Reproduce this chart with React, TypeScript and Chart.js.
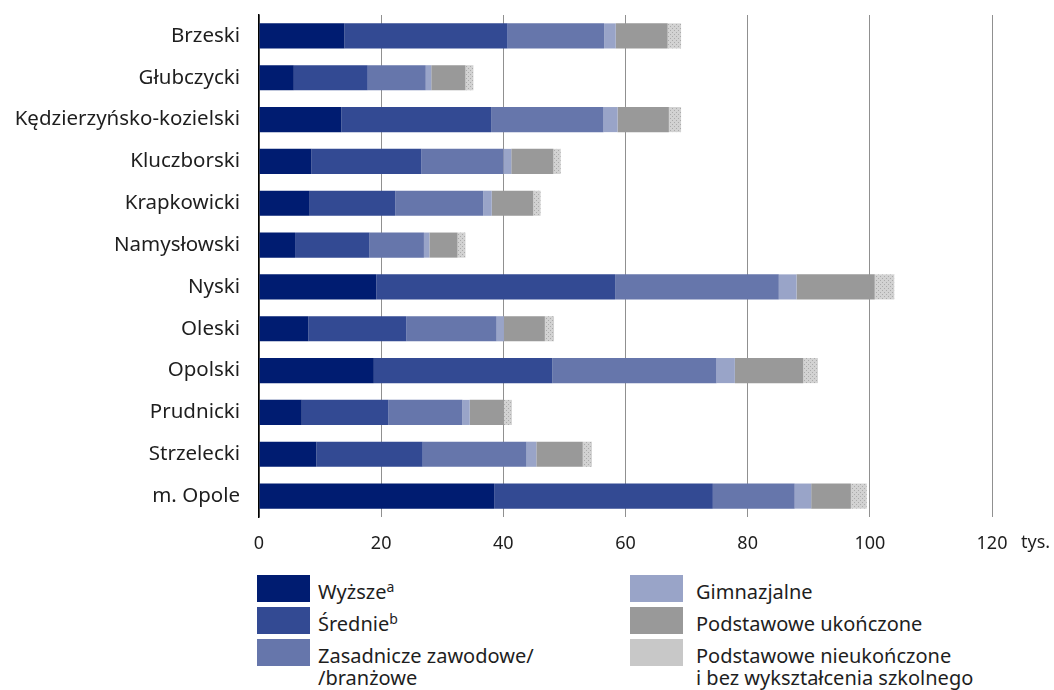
import React, { useEffect, useRef } from "react";
import { Chart, registerables } from "chart.js";

Chart.register(...registerables);

const categories = [
  "Brzeski",
  "Głubczycki",
  "Kędzierzyńsko-kozielski",
  "Kluczborski",
  "Krapkowicki",
  "Namysłowski",
  "Nyski",
  "Oleski",
  "Opolski",
  "Prudnicki",
  "Strzelecki",
  "m. Opole",
];

const wyzsze = [14.0, 5.7, 13.5, 8.6, 8.3, 5.9, 19.2, 8.1, 18.8, 7.0, 9.4, 38.5];
const srednie = [26.7, 12.1, 24.5, 18.0, 14.0, 12.2, 39.1, 16.0, 29.2, 14.2, 17.4, 35.8];
const zasadnicze = [15.8, 9.5, 18.4, 13.4, 14.4, 8.9, 26.8, 14.8, 26.9, 12.1, 17.0, 13.4];
const gimnazjalne = [1.9, 0.9, 2.3, 1.3, 1.4, 0.9, 2.9, 1.2, 3.0, 1.2, 1.6, 2.7];
const podstawoweUkonczone = [8.5, 5.6, 8.4, 6.9, 6.8, 4.6, 12.8, 6.7, 11.2, 5.6, 7.6, 6.5];
const podstawoweNieukonczone = [2.2, 1.3, 2.0, 1.2, 1.2, 1.3, 3.2, 1.5, 2.4, 1.3, 1.5, 2.6];

const xTicks = [0, 20, 40, 60, 80, 100, 120];
const unitLabel = "tys.";

const FONT = "'Noto Sans', 'Open Sans', sans-serif";
const TEXT = "#1e1e1e";

const COLORS = ["#001c71", "#334a93", "#6676ab", "#99a4c8", "#999999", "#c8c8c8"];

function makePattern(): CanvasPattern | string {
  const c = document.createElement("canvas");
  c.width = 4;
  c.height = 4;
  const g = c.getContext("2d");
  if (!g) return COLORS[5];
  g.fillStyle = "#d2d2d2";
  g.fillRect(0, 0, 4, 4);
  g.fillStyle = "#ababab";
  g.fillRect(0, 0, 1, 1);
  g.fillRect(2, 2, 1, 1);
  const p = g.createPattern(c, "repeat");
  return p || COLORS[5];
}

export default function App() {
  const ref = useRef<HTMLCanvasElement | null>(null);

  useEffect(() => {
    document.body.style.margin = "0";
    const canvas = ref.current;
    if (!canvas) return;

    const unitPlugin = {
      id: "unitLabel",
      afterDraw(chart: any) {
        const x = chart.scales.x;
        const ctx = chart.ctx;
        ctx.save();
        ctx.font = `18px ${FONT}`;
        ctx.fillStyle = TEXT;
        ctx.textAlign = "left";
        ctx.textBaseline = "middle";
        ctx.fillText(unitLabel, x.getPixelForValue(120) + 29, x.top + 26);
        ctx.restore();
      },
    };

    const series = [
      wyzsze,
      srednie,
      zasadnicze,
      gimnazjalne,
      podstawoweUkonczone,
      podstawoweNieukonczone,
    ];

    const chart = new Chart(canvas, {
      type: "bar",
      data: {
        labels: categories,
        datasets: series.map((d, i) => ({
          label: String(i),
          data: d,
          backgroundColor: i === 5 ? (makePattern() as any) : COLORS[i],
          borderWidth: 0,
          barPercentage: 0.6,
          categoryPercentage: 1,
        })),
      },
      options: {
        indexAxis: "y",
        animation: false,
        responsive: false,
        maintainAspectRatio: false,
        layout: { padding: { top: 15, right: 62, bottom: 0, left: 0 } },
        plugins: {
          legend: { display: false },
          tooltip: { enabled: false },
        },
        scales: {
          x: {
            stacked: true,
            min: 0,
            max: 120,
            afterBuildTicks: (s: any) => {
              s.ticks = xTicks.map((v) => ({ value: v }));
            },
            afterFit: (s: any) => {
              s.height = 43;
            },
            border: { display: false },
            grid: { color: "#909090", lineWidth: 1, drawTicks: false },
            ticks: {
              padding: 16,
              color: TEXT,
              font: { family: FONT, size: 18 },
            },
          },
          y: {
            stacked: true,
            afterFit: (s: any) => {
              s.width = 259;
              s.paddingTop = 0;
              s.paddingBottom = 0;
            },
            border: { display: true, color: "#000000", width: 1.5 },
            grid: { display: false, drawTicks: false },
            ticks: {
              padding: 19,
              color: TEXT,
              font: { family: FONT, size: 20.5 },
            },
          },
        },
      },
      plugins: [unitPlugin],
    });

    return () => chart.destroy();
  }, []);

  const legendLeft = [
    { color: COLORS[0], lines: [<>Wyższe<sup style={supStyle}>a</sup></>] },
    { color: COLORS[1], lines: [<>Średnie<sup style={supStyle}>b</sup></>] },
    { color: COLORS[2], lines: [<>Zasadnicze zawodowe/</>, <>/branżowe</>] },
  ];
  const legendRight = [
    { color: COLORS[3], lines: [<>Gimnazjalne</>] },
    { color: COLORS[4], lines: [<>Podstawowe ukończone</>] },
    { color: COLORS[5], lines: [<>Podstawowe nieukończone</>, <>i bez wykształcenia szkolnego</>] },
  ];

  const renderCol = (items: any[], boxLeft: number, textLeft: number) =>
    items.map((it, i) => {
      const top = 575 + i * 32;
      return (
        <React.Fragment key={i}>
          <div
            style={{
              position: "absolute",
              left: boxLeft,
              top,
              width: 53,
              height: 27,
              background: it.color,
            }}
          />
          <div
            style={{
              position: "absolute",
              left: textLeft,
              top: top + 6,
              fontFamily: FONT,
              fontSize: 20,
              lineHeight: "22px",
              color: TEXT,
              whiteSpace: "nowrap",
            }}
          >
            {it.lines.map((l: any, j: number) => (
              <div key={j} style={{ height: 22 }}>{l}</div>
            ))}
          </div>
        </React.Fragment>
      );
    });

  return (
    <div style={{ position: "relative", width: 1054, height: 690, overflow: "hidden", background: "#fff" }}>
      <canvas ref={ref} width={1054} height={560} style={{ display: "block", width: 1054, height: 560 }} />
      {renderCol(legendLeft, 257, 318)}
      {renderCol(legendRight, 630, 696)}
    </div>
  );
}

const supStyle: React.CSSProperties = { fontSize: 14, verticalAlign: "7px", lineHeight: 0 };
